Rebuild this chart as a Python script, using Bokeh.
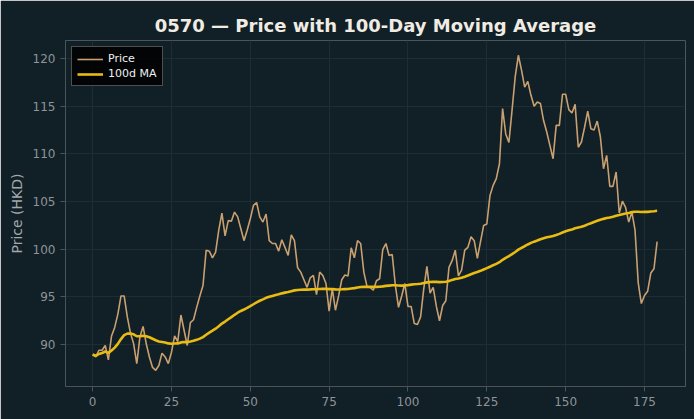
import pandas as pd
from bokeh.plotting import figure
from bokeh.models import ColumnDataSource, Legend, LegendItem, FixedTicker, Range1d
from bokeh.embed import file_html
from bokeh.resources import INLINE

# Daily closing prices for 0570 (HKD), 180 trading days
price = [
    88.95, 88.7, 89.4, 89.4, 89.9, 88.4, 90.9, 91.8, 93.2, 95.1,
    95.1, 92.9, 91.2, 90.1, 88.0, 90.8, 91.9, 90.1, 88.7, 87.6,
    87.3, 87.8, 89.1, 88.7, 88.0, 89.2, 90.9, 90.3, 93.1, 91.5,
    89.9, 92.3, 92.6, 93.9, 95.1, 96.2, 99.9, 99.8, 99.1, 99.7,
    102.0, 103.8, 101.4, 103.0, 102.95, 103.9, 103.4, 102.15, 100.9, 102.0,
    103.2, 104.6, 104.9, 103.4, 102.85, 103.7, 100.9, 100.6, 100.6, 99.8,
    101.0, 100.2, 99.35, 101.5, 100.9, 98.05, 97.6, 96.8, 96.0, 97.0,
    97.25, 95.25, 97.6, 97.25, 96.4, 93.5, 95.85, 93.6, 95.1, 96.8,
    97.3, 97.2, 100.15, 99.1, 100.9, 100.6, 97.6, 96.1, 96.0, 95.7,
    96.7, 96.9, 99.95, 100.6, 99.35, 99.45, 96.2, 93.9, 95.1, 96.4,
    94.0, 94.0, 92.2, 92.1, 92.9, 95.85, 98.2, 95.4, 96.0, 94.0,
    92.5, 94.1, 94.6, 98.1, 98.8, 99.9, 97.2, 97.8, 99.9, 100.2,
    101.3, 100.9, 99.05, 100.8, 102.5, 102.65, 105.65, 106.7, 107.4, 108.97,
    114.75, 112.1, 111.2, 114.6, 118.1, 120.35, 118.8, 117.0, 117.6, 116.15,
    115.0, 115.45, 115.3, 113.5, 112.3, 110.9, 109.5, 113.0, 113.0, 116.26,
    116.26, 114.65, 114.3, 115.2, 110.7, 111.25, 112.8, 114.5, 112.65, 112.5,
    113.45, 111.8, 108.45, 109.85, 106.6, 106.6, 108.1, 103.8, 105.05, 104.4,
    102.85, 103.9, 102.0, 96.5, 94.3, 95.15, 95.6, 97.5, 97.95, 100.8,
]
day = list(range(len(price)))
ma_window = 100

x_ticks = [0, 25, 50, 75, 100, 125, 150, 175]
y_ticks = [90, 95, 100, 105, 110, 115, 120]

df = pd.DataFrame({"day": day, "price": price})
df["ma"] = df["price"].rolling(ma_window, min_periods=1).mean()
src = ColumnDataSource(df)

BG = "#111f26"
p = figure(
    width=694, height=419,
    output_backend="svg", toolbar_location=None,
    x_range=Range1d(-8.6, 188), y_range=Range1d(85.6, 121.9),
    background_fill_color=BG, border_fill_color=BG,
    min_border_left=65, min_border_right=9, min_border_top=40, min_border_bottom=33,
)

p.title.text = "0570 — Price with 100-Day Moving Average"
p.title.align = "center"
p.title.text_color = "#f0ece4"
p.title.text_font = "DejaVu Sans"
p.title.text_font_size = "18px"
p.title.text_font_style = "bold"

r_price = p.line("day", "price", source=src, line_color="#c9a070", line_width=1.6)
r_ma = p.line("day", "ma", source=src, line_color="#e8bc12", line_width=2.6)

for ax in (p.xaxis[0], p.yaxis[0]):
    ax.axis_line_color = "#4a5358"
    ax.major_tick_line_color = "#4a5358"
    ax.minor_tick_line_color = None
    ax.major_label_text_color = "#8e9498"
    ax.major_label_text_font = "DejaVu Sans"
    ax.major_label_text_font_size = "12px"
    ax.major_tick_out = 5
    ax.major_tick_in = 0

p.xaxis.ticker = FixedTicker(ticks=x_ticks)
p.yaxis.ticker = FixedTicker(ticks=y_ticks)
p.yaxis.axis_label = "Price (HKD)"
p.yaxis.axis_label_text_color = "#a3a8ab"
p.yaxis.axis_label_text_font = "DejaVu Sans"
p.yaxis.axis_label_text_font_size = "14px"
p.yaxis.axis_label_text_font_style = "normal"

p.xgrid.grid_line_color = "#1e2d34"
p.ygrid.grid_line_color = "#1e2d34"
p.outline_line_color = None

legend = Legend(
    items=[LegendItem(label="Price", renderers=[r_price]),
           LegendItem(label="100d MA", renderers=[r_ma])],
    location="top_left",
    background_fill_color="#000000", background_fill_alpha=0.85,
    border_line_color="#9a9a9a", border_line_width=1,
    label_text_color="#f0f0f0", label_text_font="DejaVu Sans",
    label_text_font_size="11px",
    glyph_width=26, glyph_height=10, label_height=12,
    spacing=2, padding=5, margin=6,
)
p.add_layout(legend)

open("out.html", "w").write(file_html(p, INLINE))
